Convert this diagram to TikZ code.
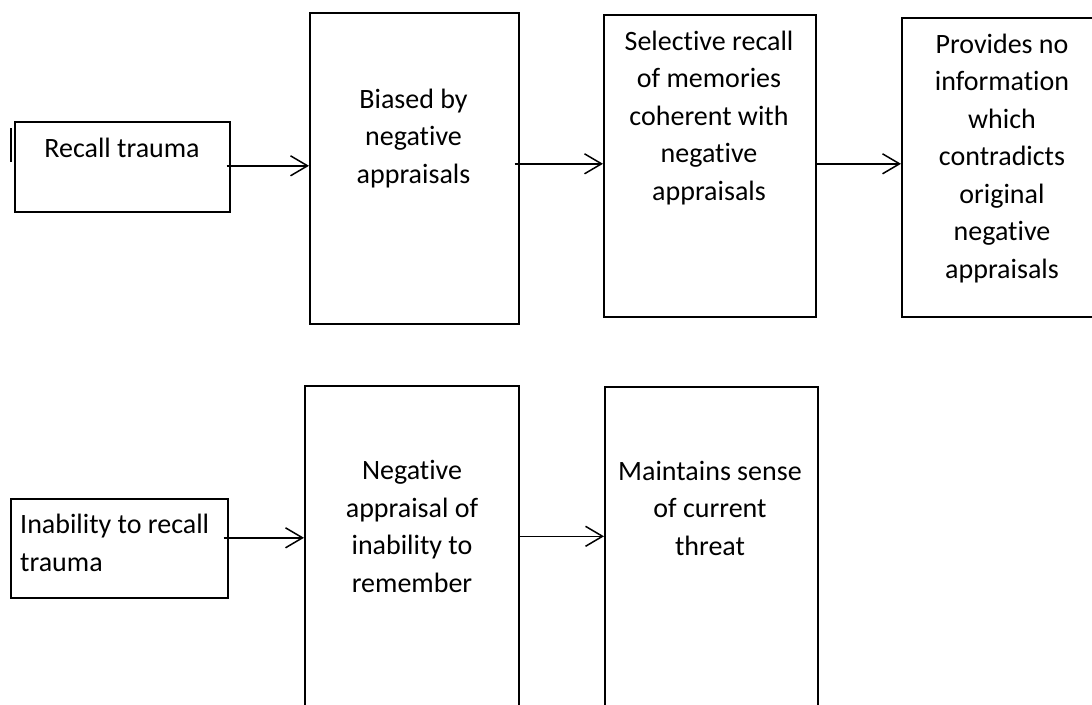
\documentclass[tikz,border=0pt]{standalone}
\usepackage{fontspec}
\setmainfont{Carlito}[Ligatures=NoCommon]
\usetikzlibrary{arrows.meta}
\begin{document}
\begin{tikzpicture}[x=1pt,y=-1pt,
  box/.style={draw, line width=1.6pt, inner sep=0pt, anchor=north west},
  txt/.style={font=\fontsize{28}{37.5}\selectfont, align=center, anchor=base, inner sep=0pt},
  flow/.style={line width=1.5pt, -{Straight Barb[length=17pt,width=20pt]}}]
\useasboundingbox (0,0) rectangle (1092,704);
\clip (0,0) rectangle (1092,704);
\fill[white] (0,0) rectangle (1092,704);

% upper chain: recalling the trauma
\node[box, minimum width=215pt, minimum height=90pt]  (b1) at (14,121) {};
\node[box, minimum width=209pt, minimum height=311pt] (b2) at (309,12) {};
\node[box, minimum width=212pt, minimum height=302pt] (b3) at (603,14) {};
\node[box, minimum width=206pt, minimum height=299pt] (b4) at (901,17) {};

% lower chain: being unable to recall
\node[box, minimum width=217pt, minimum height=99pt]  (b5) at (10,498) {};
\node[box, minimum width=214pt, minimum height=340pt] (b6) at (304,385) {};
\node[box, minimum width=213pt, minimum height=340pt] (b7) at (604,386) {};

% stray stroke left of the first box
\draw[line width=1.5pt] (11,128) -- (11,162);

% box texts (placed by the baseline of their last line)
\node[txt] (t1) at (122,157) {Recall trauma};
\node[txt] (t2) at (413.5,183) {Biased by\\negative\\appraisals};
\node[txt] (t3) at (709,200) {Selective recall\\of memories\\coherent with\\negative\\appraisals};
\node[txt] (t4) at (1002,278) {Provides no\\information\\which\\contradicts\\original\\negative\\appraisals};
\node[txt, align=left, anchor=base west] (t5) at (20,571) {Inability to recall\\trauma};
\node[txt] (t6) at (412,592) {Negative\\appraisal of\\inability to\\remember};
\node[txt] (t7) at (710,555) {Maintains sense\\of current\\threat};

% connectors
\coordinate (a1) at ([xshift=-4pt,yshift=1pt]b1.east);
\coordinate (a2) at ([xshift=-5pt,yshift=4.5pt]b2.east);
\coordinate (a3) at ([yshift=2pt]b3.east);
\coordinate (a4) at ([xshift=-5pt,yshift=10.5pt]b5.east);
\coordinate (a5) at ([yshift=19.5pt]b6.east);
\draw[flow] (a1) -- (a1 -| b2.west);
\draw[flow] (a2) -- (a2 -| b3.west);
\draw[flow] (a3) -- (a3 -| b4.west);
\draw[flow] (a4) -- (a4 -| b6.west);
\draw[flow] (a5) -- (a5 -| b7.west);
\end{tikzpicture}
\end{document}
